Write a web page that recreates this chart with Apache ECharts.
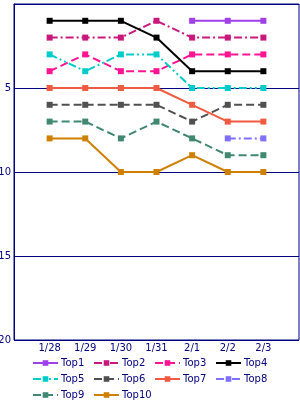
<!DOCTYPE html>
<html><head><meta charset="utf-8">
<script src="https://cdn.jsdelivr.net/npm/echarts@6/dist/echarts.min.js"></script>
<style>html,body{margin:0;padding:0;background:#fff}#c{width:300px;height:400px}</style>
</head><body><div id="c"></div>
<script>
var categories = ['1/28','1/29','1/30','1/31','2/1','2/2','2/3'];
var yTicks = [5, 10, 15, 20];
var seriesNames = ['Top1','Top2','Top3','Top4','Top5','Top6','Top7','Top8','Top9','Top10'];
var top1  = [null, null, null, null, 1, 1, 1];
var top2  = [2, 2, 2, 1, 2, 2, 2];
var top3  = [4, 3, 4, 4, 3, 3, 3];
var top4  = [1, 1, 1, 2, 4, 4, 4];
var top5  = [3, 4, 3, 3, 5, 5, 5];
var top6  = [6, 6, 6, 6, 7, 6, 6];
var top7  = [5, 5, 5, 5, 6, 7, 7];
var top8  = [null, null, null, null, null, 8, 8];
var top9  = [7, 7, 8, 7, 8, 9, 9];
var top10 = [8, 8, 10, 10, 9, 10, 10];
var values = [top1, top2, top3, top4, top5, top6, top7, top8, top9, top10];

var colors = ['#a040e8','#c8187c','#ff1493','#000000','#00cccc','#505050','#f05a40','#8070ff','#408870','#d08000'];
var dashes = ['solid',[8,3,2,3],[8,4],'solid',[8,3,2,3,2,3],[8,4],'solid',[8,3,2,3],[8,4],'solid'];
var navy = '#000080';
var font = 'DejaVu Sans';

function toData(arr){
  var out = [];
  arr.forEach(function(v,i){ if (v !== null) out.push([i+1, v]); });
  return out;
}

var series = seriesNames.map(function(n, k){
  return {
    name: n, type: 'line', data: toData(values[k]),
    symbol: 'rect', symbolSize: 6, showSymbol: true,
    itemStyle: {color: colors[k]},
    lineStyle: {color: colors[k], width: 2, type: dashes[k]},
    emphasis: {disabled: true}, animation: false
  };
});

var legends = seriesNames.map(function(n, k){
  var col = k % 4, row = Math.floor(k / 4);
  return {
    data: [n], left: 32 + col * 61, top: 358 + row * 16,
    itemWidth: 25, itemHeight: 7, itemGap: 3,
    textStyle: {color: navy, fontSize: 10, fontFamily: font, padding: [0,0,0,-2]},
    padding: 0
  };
});

var chart = echarts.init(document.getElementById('c'), null, {renderer: 'canvas'});
chart.setOption({
  animation: false,
  legend: legends,
  grid: {left: 14, right: 1, top: 4, bottom: 60, show: true, borderColor: navy, borderWidth: 1,
         containLabel: false, outerBoundsMode: 'none'},
  xAxis: {
    type: 'value', min: 0, max: categories.length + 1, interval: 1,
    axisLine: {show: true, lineStyle: {color: navy, width: 1}},
    axisTick: {show: false}, splitLine: {show: false},
    axisLabel: {color: navy, fontSize: 10, fontFamily: font, margin: 3,
      formatter: function(v){ return categories[v-1] || ''; }}
  },
  yAxis: {
    type: 'value', inverse: true, min: 0, max: yTicks[yTicks.length-1], interval: yTicks[0],
    axisLine: {show: true, lineStyle: {color: navy, width: 1}},
    axisTick: {show: false},
    splitLine: {show: true, lineStyle: {color: navy, width: 1}},
    axisLabel: {color: navy, fontSize: 10, fontFamily: font, margin: 3,
      formatter: function(v){ return yTicks.indexOf(v) >= 0 ? String(v) : ''; }}
  },
  series: series
});
</script></body></html>
